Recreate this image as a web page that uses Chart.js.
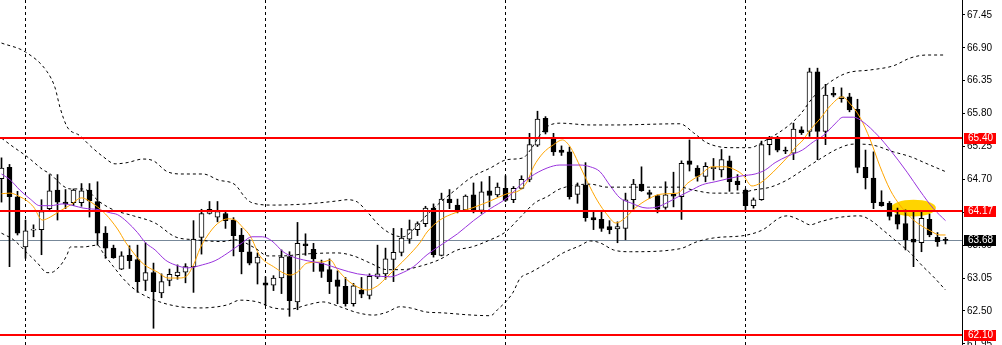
<!DOCTYPE html>
<html>
<head>
<meta charset="utf-8">
<script src="https://cdn.jsdelivr.net/npm/chart.js@4.4.1/dist/chart.umd.min.js"></script>
<style>
  html, body { margin: 0; padding: 0; background: #fff; }
  #wrap { width: 1002px; height: 345px; }
</style>
</head>
<body>
<div id="wrap"><canvas id="chart" width="1002" height="345"></canvas></div>
<script>
// Candles (one per bar, left to right)
const open = [
  64.71, 64.90, 64.41, 63.57, 63.85, 63.86, 64.21, 64.52, 64.32, 64.31,
  64.31, 64.52, 64.33, 63.80, 63.55, 63.20, 63.43, 63.36, 63.01, 63.14,
  62.80, 63.01, 63.09, 63.15, 63.24, 63.73, 64.13, 64.07, 64.13, 64.02,
  63.77, 63.49, 63.30, 62.97, 62.93, 63.05, 63.41, 62.65, 63.62, 63.53,
  63.30, 63.19, 63.02, 62.91, 62.62, 62.85, 62.76, 63.07, 63.12, 63.36,
  63.48, 63.70, 63.86, 63.96, 64.22, 63.43, 64.37, 64.27, 64.19, 64.44,
  64.18, 64.51, 64.44, 64.55, 64.36, 64.55, 64.70, 65.27, 65.72, 65.39,
  65.19, 65.16, 64.45, 64.60, 64.06, 64.03, 63.91, 63.87, 63.88, 64.36,
  64.62, 64.48, 64.43, 64.23, 64.45, 64.41, 65.01, 64.89, 64.75, 64.88,
  64.86, 65.01, 64.67, 64.52, 64.26, 64.36, 65.28, 65.37, 65.19, 65.14,
  65.53, 65.50, 66.50, 65.50, 66.14, 66.05, 66.08, 65.87, 64.90, 64.72,
  64.32, 64.30, 64.11, 63.96, 63.70, 63.64, 64.03, 63.73, 63.69
];
const high = [
  65.06, 64.95, 64.50, 64.02, 63.94, 64.36, 64.78, 64.78, 64.53, 64.54,
  64.63, 64.63, 64.66, 63.91, 63.60, 63.49, 63.59, 63.60, 63.64, 63.30,
  63.12, 63.20, 63.27, 63.29, 64.01, 64.20, 64.33, 64.33, 64.17, 64.06,
  63.88, 63.69, 63.47, 63.07, 63.09, 63.52, 63.49, 63.98, 63.79, 63.63,
  63.35, 63.37, 63.17, 63.06, 62.96, 63.06, 63.12, 63.60, 63.55, 63.88,
  63.88, 64.02, 63.99, 64.25, 64.29, 64.47, 64.53, 64.37, 64.44, 64.64,
  64.66, 64.75, 64.64, 64.76, 64.58, 64.76, 65.47, 65.84, 65.75, 65.47,
  65.26, 65.24, 64.64, 64.98, 64.15, 64.15, 64.01, 63.99, 64.47, 64.70,
  64.91, 64.52, 64.44, 64.66, 64.82, 65.01, 65.36, 64.93, 64.98, 65.05,
  65.20, 65.09, 64.78, 64.54, 64.39, 65.34, 65.42, 65.42, 65.24, 65.64,
  65.58, 66.56, 66.56, 66.29, 66.24, 66.23, 66.14, 66.04, 65.19, 65.16,
  64.51, 64.33, 64.22, 64.19, 64.17, 64.17, 64.12, 63.81, 63.73
];
const low = [
  64.32, 63.24, 63.77, 63.38, 63.74, 63.44, 64.17, 64.02, 64.21, 64.26,
  64.25, 64.07, 63.60, 63.38, 63.38, 63.19, 63.21, 62.81, 62.84, 62.21,
  62.72, 62.92, 63.03, 62.97, 62.81, 63.45, 64.12, 63.99, 63.88, 63.42,
  63.12, 63.27, 62.95, 62.59, 62.84, 62.79, 62.41, 62.52, 63.43, 63.16,
  63.06, 62.79, 62.62, 62.58, 62.58, 62.72, 62.70, 63.04, 63.03, 62.99,
  63.42, 63.63, 63.76, 63.91, 63.40, 63.42, 64.21, 64.14, 64.16, 64.14,
  64.13, 64.24, 64.41, 64.33, 64.31, 64.54, 64.66, 65.25, 65.46, 65.10,
  65.10, 64.37, 64.30, 64.00, 63.86, 63.83, 63.79, 63.64, 63.69, 64.20,
  64.50, 64.38, 64.14, 64.20, 64.24, 64.03, 64.84, 64.67, 64.66, 64.69,
  64.74, 64.50, 64.52, 64.19, 64.22, 64.35, 65.11, 65.16, 65.13, 65.03,
  65.45, 65.42, 65.03, 65.28, 66.08, 65.99, 65.83, 64.81, 64.54, 64.21,
  64.25, 64.02, 63.87, 63.52, 63.24, 63.49, 63.74, 63.58, 63.62
];
const close = [
  64.89, 64.41, 63.80, 63.84, 63.86, 64.16, 64.51, 64.32, 64.29, 64.52,
  64.51, 64.34, 63.80, 63.55, 63.39, 63.42, 63.34, 62.99, 63.14, 62.82,
  62.99, 63.11, 63.15, 63.24, 63.70, 64.13, 64.20, 64.16, 64.01, 63.76,
  63.49, 63.30, 63.40, 62.93, 63.05, 63.40, 62.67, 63.63, 63.59, 63.37,
  63.16, 62.99, 62.91, 62.62, 62.92, 62.78, 63.08, 63.12, 63.37, 63.48,
  63.72, 63.86, 63.96, 64.22, 63.44, 64.37, 64.31, 64.19, 64.42, 64.18,
  64.49, 64.43, 64.57, 64.35, 64.55, 64.70, 65.28, 65.71, 65.49, 65.16,
  65.15, 64.41, 64.59, 64.06, 64.02, 63.88, 63.86, 63.91, 64.36, 64.62,
  64.51, 64.45, 64.20, 64.44, 64.42, 64.97, 64.95, 64.75, 64.92, 64.90,
  65.03, 64.66, 64.61, 64.26, 64.36, 65.28, 65.37, 65.19, 65.17, 65.54,
  65.48, 66.50, 65.50, 66.11, 66.11, 66.08, 65.86, 64.90, 64.73, 64.31,
  64.26, 64.08, 63.95, 63.69, 63.65, 64.05, 63.77, 63.66, 63.68
];

// Indicator lines: [bar index, price]
const bbUpper = [
  [0,66.98],[3,66.83],[5.7,66.50],[6.7,66.23],[7.3,65.91],[8.2,65.58],[9.8,65.43],[11.1,65.26],
  [12.7,65.08],[14.2,64.96],[15.7,64.98],[17.7,65.04],[19,65.01],[20.7,64.83],[22.7,64.79],
  [25.2,64.79],[27.1,64.69],[29.2,64.61],[30.5,64.39],[31.3,64.31],[34,64.27],[38.2,64.29],
  [42,64.34],[43.2,64.36],[44.5,64.32],[45.7,64.16],[47.3,63.92],[49,63.77],[50.2,63.74],
  [51.7,63.89],[53.2,64.11],[54.8,64.31],[56.7,64.52],[58.8,64.74],[61.1,64.89],[63.2,65.03],
  [65.2,65.06],[66.1,65.19],[67.3,65.44],[68.2,65.58],[69.8,65.64],[73.6,65.61],[76.5,65.61],
  [84.8,65.63],[86.5,65.48],[88.2,65.31],[91.1,65.23],[93.6,65.23],[95.2,65.33],[98.2,65.58],
  [99.8,65.78],[101.5,66.08],[103.6,66.33],[105.7,66.48],[108.6,66.53],[111.5,66.60],
  [113.6,66.73],[115.7,66.78],[118,66.78]
];
const bbMiddle = [
  [0,65.39],[1.5,65.24],[3.2,65.08],[5.2,64.86],[6.1,64.79],[7.7,64.59],[8.6,64.54],[10.2,64.54],
  [12.3,64.32],[14,64.19],[16.5,64.09],[19.2,63.97],[21.7,63.74],[24.2,63.69],[27.6,63.66],
  [29.2,63.69],[31.7,63.55],[33.3,63.42],[35.2,63.42],[37.7,63.45],[42,63.47],[44,63.42],
  [46.1,63.30],[48.2,63.19],[50.2,63.19],[52.1,63.24],[54.6,63.35],[57,63.52],[58.8,63.57],
  [61.1,63.69],[63,63.82],[64.8,64.06],[66.7,64.31],[68.2,64.41],[69.8,64.54],[73.6,64.62],
  [75.7,64.57],[84.8,64.57],[86.5,64.52],[89,64.47],[92.3,64.47],[93.9,64.52],[96.1,64.57],
  [98.2,64.69],[100.2,64.86],[102.3,65.04],[104.5,65.21],[106.5,65.29],[108.6,65.28],
  [111.5,65.16],[113.6,65.08],[115.7,64.96],[118,64.83]
];
const bbLower = [
  [0,63.80],[1.5,63.69],[3.2,63.47],[4.5,63.30],[5.7,63.14],[6.1,63.14],[7.3,63.25],[8.2,63.44],
  [8.6,63.57],[10.2,63.57],[12,63.60],[12.7,63.47],[14,63.24],[15.7,62.97],[17.3,62.80],
  [19.8,62.65],[22.3,62.57],[24.8,62.55],[28.2,62.60],[29.8,62.68],[32,62.65],[34,62.55],
  [36.1,62.53],[38.2,62.60],[40.2,62.65],[42.3,62.57],[44.5,62.47],[46.5,62.43],[48.2,62.48],
  [49.8,62.57],[51.1,62.55],[53.2,62.48],[54.8,62.47],[58.9,62.43],[61.1,62.42],[62,62.52],
  [63.9,62.80],[64.8,63.04],[66.1,63.14],[68.2,63.30],[70.2,63.47],[72.3,63.59],[73.6,63.67],
  [74.8,63.64],[76.5,63.52],[78.6,63.49],[84.8,63.54],[87,63.66],[89,63.72],[93.2,63.77],
  [95.2,63.86],[97.3,64.06],[98.2,64.09],[99.8,64.02],[101.1,63.94],[102.3,63.99],[104.5,64.06],
  [107.3,64.09],[108.6,64.02],[110.2,63.85],[112,63.65],[113.6,63.47],[115.2,63.24],
  [116.5,63.07],[118,62.85]
];
const maFast = [
  [0,64.46],[1.1,64.47],[2.3,64.41],[3.2,64.34],[4,64.24],[5.1,64.02],[6.1,64.07],[7.3,64.17],
  [8.6,64.27],[10,64.39],[10.7,64.36],[11.7,64.27],[13,64.12],[14.5,63.87],[15.5,63.65],
  [16.5,63.47],[17.3,63.34],[18.2,63.24],[19.5,63.15],[20.8,63.05],[22.1,63.05],[23,63.07],
  [24,63.27],[24.8,63.54],[25.7,63.75],[27,63.96],[28.3,64.04],[29.2,64.02],[30.2,63.89],
  [31.1,63.75],[32.3,63.42],[34,63.24],[36.1,63.10],[37,63.15],[38.2,63.30],[40.2,63.32],
  [41.1,63.35],[42,63.19],[43.2,63.02],[44.5,62.90],[45.7,62.85],[47,62.92],[48.2,63.07],
  [49.5,63.24],[50.7,63.40],[52.3,63.64],[53.2,63.82],[54.8,64.02],[56.7,64.14],[58.8,64.22],
  [61.1,64.34],[63.2,64.46],[64.8,64.52],[65.7,64.66],[66.5,64.91],[67.7,65.14],[69,65.28],
  [70.1,65.36],[71.1,65.24],[72.1,64.98],[73.2,64.67],[74.5,64.34],[75.7,64.11],[76.8,63.97],
  [78,64.06],[79.2,64.22],[80.7,64.36],[82,64.44],[83.2,64.46],[84.5,64.47],[85.8,64.64],
  [87.3,64.77],[88.8,64.91],[90.5,64.91],[91.7,64.86],[92.7,64.77],[93.8,64.59],[94.6,64.62],
  [95.8,64.74],[97.1,64.91],[98.3,65.08],[99.2,65.23],[100.2,65.36],[101.1,65.53],[102.3,65.71],
  [103.6,65.93],[105.1,66.08],[106.1,65.96],[107.3,65.74],[108.6,65.36],[109.8,64.92],
  [111.1,64.52],[112.3,64.27],[113.6,64.07],[114.8,63.94],[116.1,63.84],[117.3,63.77],[118,63.77]
];
const maSlow = [
  [0,64.79],[1.1,64.69],[2.3,64.52],[3.6,64.37],[4.8,64.26],[6.1,64.26],[7.7,64.29],[9,64.26],
  [10.2,64.22],[12.3,64.19],[13.6,64.14],[14.5,64.11],[15.7,63.99],[17,63.81],[18,63.64],
  [19.2,63.52],[20.5,63.35],[21.7,63.27],[23.3,63.22],[25.1,63.27],[26.7,63.34],[28.3,63.47],
  [30.1,63.64],[31.3,63.74],[32.6,63.74],[33.8,63.67],[35.2,63.49],[36.5,63.40],[38.2,63.34],
  [40.2,63.29],[42.3,63.20],[44.5,63.12],[46.5,63.09],[48.6,63.07],[49.8,63.12],[51.5,63.24],
  [53.2,63.44],[54.8,63.59],[57,63.79],[59,64.01],[61.1,64.21],[63.2,64.39],[64.5,64.56],
  [66.1,64.74],[68.2,64.89],[69.8,64.94],[72.3,64.94],[73.6,64.91],[74.8,64.83],[76.1,64.59],
  [77.3,64.39],[78.6,64.31],[80.7,64.22],[82,64.24],[83.2,64.31],[84.6,64.41],[86.1,64.51],
  [87.6,64.61],[89.2,64.66],[91.1,64.72],[92.6,64.76],[94.2,64.79],[95.5,64.86],[96.7,64.98],
  [98.3,65.09],[100.1,65.19],[101.5,65.33],[102.7,65.43],[104.2,65.63],[105.2,65.74],
  [106.5,65.74],[107.7,65.66],[109.5,65.44],[111.1,65.19],[113.2,64.82],[114.8,64.51],
  [116.5,64.21],[118,64.01]
];

// Horizontal levels, price axis ticks, day separators
const levels = [65.40, 64.17, 62.10];
const bidPrice = 63.68;
const priceTicks = [61.95, 62.50, 63.05, 63.60, 64.15, 64.70, 65.25, 65.80, 66.35, 66.90, 67.45];
const separators = [3, 33, 63, 93];
// yellow marker around bars 112-116 near 64.17
const marker = { idx: 114.0, price: 64.22, halfBars: 2.8, halfPrice: 0.14 };

Chart.defaults.font.family = '"Liberation Sans", Arial, sans-serif';
Chart.defaults.font.size = 10;
Chart.defaults.color = '#000';

const toXY = arr => arr.map(([i, p]) => ({ x: i, y: p }));

const lineSet = (data, color, dash) => ({
  type: 'line',
  data: toXY(data),
  borderColor: color,
  borderWidth: 1,
  borderDash: dash || [],
  pointRadius: 0,
  fill: false,
  cubicInterpolationMode: 'monotone',
  order: 0
});

const extras = {
  id: 'extras',
  beforeDatasetsDraw(chart) {
    const { ctx, chartArea: a, scales: { x, y } } = chart;
    ctx.save();
    ctx.beginPath();
    ctx.rect(a.left, a.top, a.right - a.left, a.bottom - a.top);
    ctx.clip();

    // highlight blob
    const cx = x.getPixelForValue(marker.idx);
    const cy = y.getPixelForValue(marker.price);
    const rx = x.getPixelForValue(marker.idx + marker.halfBars) - cx;
    const ry = y.getPixelForValue(marker.price - marker.halfPrice) - cy;
    ctx.fillStyle = '#ffd400';
    ctx.beginPath();
    ctx.ellipse(cx, cy, rx, ry, 0, 0, Math.PI * 2);
    ctx.fill();

    // dashed day separators
    ctx.strokeStyle = '#000';
    ctx.lineWidth = 1;
    ctx.setLineDash([3, 3]);
    separators.forEach(i => {
      const px = Math.floor(x.getPixelForValue(i)) + 0.5;
      ctx.beginPath();
      ctx.moveTo(px, a.top);
      ctx.lineTo(px, a.bottom);
      ctx.stroke();
    });
    ctx.setLineDash([]);

    // bid line
    const by = Math.round(y.getPixelForValue(bidPrice)) + 0.5;
    ctx.strokeStyle = '#778899';
    ctx.beginPath();
    ctx.moveTo(a.left, by);
    ctx.lineTo(a.right, by);
    ctx.stroke();
    ctx.restore();
  },
  afterDatasetsDraw(chart) {
    const { ctx, chartArea: a, scales: { y } } = chart;
    ctx.save();
    ctx.strokeStyle = '#ff0000';
    ctx.lineWidth = 2;
    levels.forEach(p => {
      const py = Math.round(y.getPixelForValue(p));
      ctx.beginPath();
      ctx.moveTo(a.left, py);
      ctx.lineTo(a.right, py);
      ctx.stroke();
    });
    ctx.restore();
  },
  afterDraw(chart) {
    const { ctx, chartArea: a, scales: { y } } = chart;
    ctx.save();
    ctx.font = '10px "Liberation Sans", Arial, sans-serif';
    ctx.textBaseline = 'middle';
    const tag = (p, bg) => {
      const py = Math.round(y.getPixelForValue(p));
      ctx.fillStyle = bg;
      ctx.fillRect(a.right + 2, py - 5, 32, 11);
      ctx.fillStyle = '#fff';
      ctx.fillText(p.toFixed(2), a.right + 6, py + 0.5);
    };
    levels.forEach(p => tag(p, '#ff0000'));
    tag(bidPrice, '#000');
    ctx.restore();
  }
};

new Chart(document.getElementById('chart'), {
  type: 'bar',
  data: {
    datasets: [
      lineSet(bbUpper, '#000', [3, 3]),
      lineSet(bbMiddle, '#000', [3, 3]),
      lineSet(bbLower, '#000', [3, 3]),
      lineSet(maSlow, '#9933dd'),
      lineSet(maFast, '#ffa500'),
      {
        // bodies
        type: 'bar',
        data: open.map((o, i) => ({ x: i, y: [o, close[i]] })),
        backgroundColor: open.map((o, i) => close[i] > o ? '#fff' : '#000'),
        borderColor: '#000',
        borderWidth: 1,
        borderSkipped: false,
        barThickness: 5,
        maxBarThickness: 5,
        minBarLength: 1,
        grouped: false,
        order: 4
      },
      {
        // wicks
        type: 'bar',
        data: open.map((o, i) => ({ x: i, y: [low[i], high[i]] })),
        backgroundColor: '#000',
        borderWidth: 0,
        barThickness: 1,
        maxBarThickness: 1,
        grouped: false,
        order: 5
      }
    ]
  },
  options: {
    responsive: false,
    devicePixelRatio: 1,
    animation: false,
    events: [],
    layout: { padding: 0 },
    plugins: { legend: { display: false }, tooltip: { enabled: false } },
    scales: {
      x: {
        type: 'linear',
        display: false,
        offset: false,
        min: -0.1875,
        max: 120.0625
      },
      y: {
        type: 'linear',
        position: 'right',
        min: 61.93,
        max: 67.70,
        afterBuildTicks: s => { s.ticks = priceTicks.map(v => ({ value: v })); },
        afterFit: s => { s.width = 40; s.paddingTop = 0; s.paddingBottom = 0; },
        grid: { drawOnChartArea: false, drawTicks: true, tickLength: 3, color: '#000' },
        border: { display: true, color: '#000', width: 1 },
        ticks: {
          padding: 2,
          autoSkip: false,
          color: '#000',
          callback: v => v.toFixed(2)
        }
      }
    }
  },
  plugins: [extras]
});
</script>
</body>
</html>
